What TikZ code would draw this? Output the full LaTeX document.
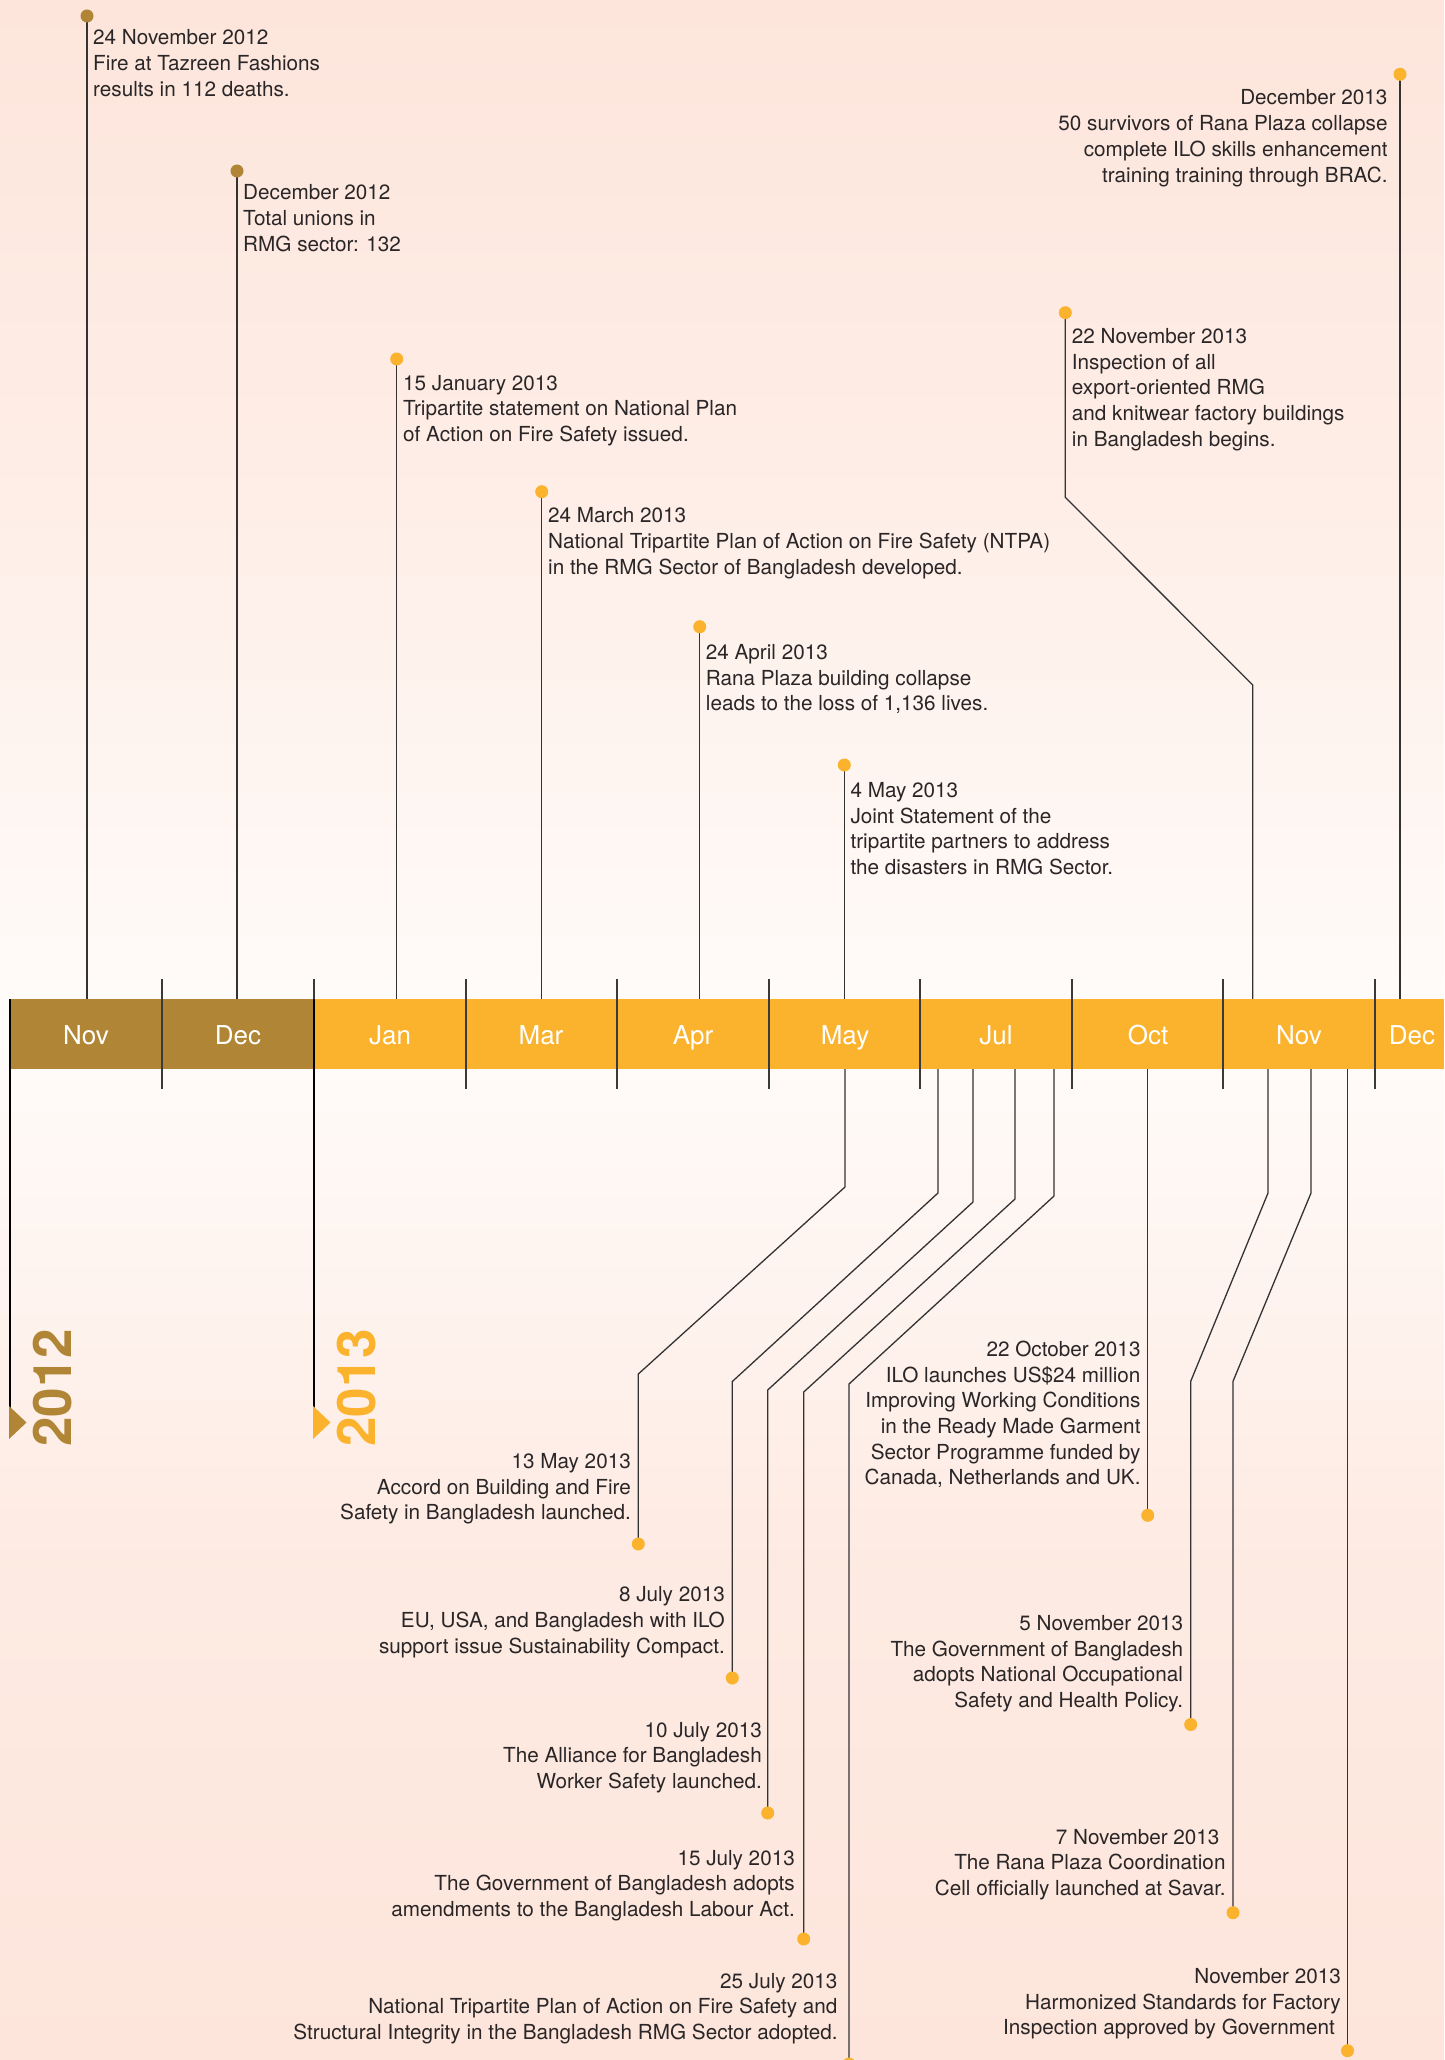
\documentclass[tikz,border=0pt]{standalone}
\usepackage{fontspec}
\setmainfont{TeX Gyre Heros}
\definecolor{brownc}{HTML}{B08535}
\definecolor{orangec}{HTML}{FBB22C}
\definecolor{pinkbg}{HTML}{FDE5DB}
\definecolor{whitebg}{HTML}{FFFCFA}
\definecolor{txtc}{HTML}{2A2627}
\definecolor{stemc}{HTML}{333333}
\definecolor{tickc}{HTML}{3A3A3A}
\newcommand\evL[1]{\begin{tabular}[t]{@{}l@{}}#1\end{tabular}}
\newcommand\evR[1]{\begin{tabular}[t]{@{}r@{}}#1\end{tabular}}
\begin{document}
\begin{tikzpicture}[x=1pt,y=-1pt,
  stem/.style={draw=stemc, line width=1.3pt},
  yearline/.style={draw=black, line width=2.2pt},
  tickline/.style={draw=tickc, line width=1.2pt},
  dotA/.style={circle, fill=brownc, inner sep=0pt, minimum size=13pt},
  dotB/.style={circle, fill=orangec, inner sep=0pt, minimum size=13pt},
  txt/.style={inner sep=0pt, text=txtc, font=\fontsize{20.7}{25.7}\selectfont},
  txtL/.style={txt, anchor=base west},
  txtR/.style={txt, anchor=base east},
  month/.style={inner sep=0pt, text=white, font=\fontsize{26}{30}\selectfont, anchor=base},
  yearlab/.style={inner sep=0pt, rotate=90, anchor=base west, font=\fontsize{53}{60}\selectfont\bfseries}
]
\useasboundingbox (0,0) rectangle (1444,2060);
% background
\shade[top color=pinkbg, bottom color=whitebg, middle color=pinkbg!60!whitebg] (0,0) rectangle (1444,1034);
\shade[top color=whitebg, bottom color=pinkbg, middle color=pinkbg!75!whitebg] (0,1034) rectangle (1444,2060);

% ---------- positions ----------
\coordinate (p1) at (87,16);
\coordinate (p2) at (237,171);
\coordinate (p3) at (396.7,359);
\coordinate (p4) at (541.7,491.7);
\coordinate (p5) at (699.7,626.7);
\coordinate (p6) at (844.3,765);
\coordinate (p7) at (1065.3,312.7);
\coordinate (p8) at (1400,74.3);
\coordinate (b1) at (87,1000);
\coordinate (b2) at (237,1000);
\coordinate (b3) at (396.7,1000);
\coordinate (b4) at (541.7,1000);
\coordinate (b5) at (699.7,1000);
\coordinate (b6) at (844.3,1000);
\coordinate (k7a) at (1065.3,497.3);
\coordinate (k7b) at (1252.7,685);
\coordinate (b7) at (1252.7,1000);
\coordinate (b8) at (1400,1000);

\coordinate (q1) at (638.3,1544);
\coordinate (q2) at (732.3,1678);
\coordinate (q3) at (767.7,1813);
\coordinate (q4) at (803.7,1939);
\coordinate (q5) at (849,2064);
\coordinate (q6) at (1147.7,1515.3);
\coordinate (q7) at (1190.7,1724.5);
\coordinate (q8) at (1233,1912.7);
\coordinate (q9) at (1347.5,2050.7);
\coordinate (c1) at (845,1068);
\coordinate (c2) at (938,1068);
\coordinate (c3) at (973,1068);
\coordinate (c4) at (1015,1068);
\coordinate (c5) at (1054,1068);
\coordinate (c6) at (1147.7,1068);
\coordinate (c7) at (1268,1068);
\coordinate (c8) at (1311,1068);
\coordinate (c9) at (1347.5,1068);
\coordinate (k1a) at (845,1187);   \coordinate (k1b) at (638.3,1374);
\coordinate (k2a) at (938,1193);   \coordinate (k2b) at (732.3,1381.5);
\coordinate (k3a) at (973,1202);   \coordinate (k3b) at (767.7,1390);
\coordinate (k4a) at (1015,1199);  \coordinate (k4b) at (803.7,1392);
\coordinate (k5a) at (1054,1196);  \coordinate (k5b) at (849,1384);
\coordinate (k7a2) at (1268,1193); \coordinate (k7b2) at (1190.7,1381.3);
\coordinate (k8a) at (1311,1193);  \coordinate (k8b) at (1233,1381.3);

% stems
\draw[stem] (p1) -- (b1);
\draw[stem] (p2) -- (b2);
\draw[stem] (p3) -- (b3);
\draw[stem] (p4) -- (b4);
\draw[stem] (p5) -- (b5);
\draw[stem] (p6) -- (b6);
\draw[stem] (p7) -- (k7a) -- (k7b) -- (b7);
\draw[stem] (p8) -- (b8);
\draw[stem] (c1) -- (k1a) -- (k1b) -- (q1);
\draw[stem] (c2) -- (k2a) -- (k2b) -- (q2);
\draw[stem] (c3) -- (k3a) -- (k3b) -- (q3);
\draw[stem] (c4) -- (k4a) -- (k4b) -- (q4);
\draw[stem] (c5) -- (k5a) -- (k5b) -- (q5);
\draw[stem] (c6) -- (q6);
\draw[stem] (c7) -- (k7a2) -- (k7b2) -- (q7);
\draw[stem] (c8) -- (k8a) -- (k8b) -- (q8);
\draw[stem] (c9) -- (q9);

% dots
\node[dotA] (d1) at (p1) {};
\node[dotA] (d2) at (p2) {};
\node[dotB] (d3) at (p3) {};
\node[dotB] (d4) at (p4) {};
\node[dotB] (d5) at (p5) {};
\node[dotB] (d6) at (p6) {};
\node[dotB] (d7) at (p7) {};
\node[dotB] (d8) at (p8) {};
\node[dotB] (e1) at (q1) {};
\node[dotB] (e2) at (q2) {};
\node[dotB] (e3) at (q3) {};
\node[dotB] (e4) at (q4) {};
\node[dotB] (e5) at (q5) {};
\node[dotB] (e6) at (q6) {};
\node[dotB] (e7) at (q7) {};
\node[dotB] (e8) at (q8) {};
\node[dotB] (e9) at (q9) {};

% ---------- bar ----------
\fill[brownc] (10,999) rectangle (314,1069);
\fill[orangec] (314,999) rectangle (1444,1069);
\foreach \x in {162,466,617,769,920,1072,1223,1375}
  \draw[tickline] (\x,979) -- (\x,1089);
\draw[tickline] (314,979) -- (314,999);

% year markers
\coordinate (ya) at (10,999);  \coordinate (yb) at (10,1408);
\coordinate (yc) at (314,999); \coordinate (yd) at (314,1408);
\draw[yearline] (ya) -- (yb);
\draw[yearline] (yc) -- (yd);
\fill[brownc] (9,1406) -- (26.5,1422.5) -- (9,1439) -- cycle;
\fill[orangec] (313,1406) -- (330.5,1422.5) -- (313,1439) -- cycle;
\node[yearlab, text=brownc] (y12) at (71,1447) {2012};
\node[yearlab, text=orangec] (y13) at (375,1447) {2013};

% month labels
\node[month] (m1) at (86,1044) {Nov};
\node[month] (m2) at (238,1044) {Dec};
\node[month] (m3) at (390,1044) {Jan};
\node[month] (m4) at (541,1044) {Mar};
\node[month] (m5) at (693,1044) {Apr};
\node[month] (m6) at (845,1044) {May};
\node[month] (m7) at (996,1044) {Jul};
\node[month] (m8) at (1148,1044) {Oct};
\node[month] (m9) at (1299,1044) {Nov};
\node[month] (m10) at (1412,1044) {Dec};

% ---------- texts: top ----------
\node[txtL] (t1) at (93,45) {\evL{24 November 2012\\Fire at Tazreen Fashions\\results in 112 deaths.}};
\node[txtL] (t2) at (243,200) {\evL{December 2012\\Total unions in\\RMG sector: 132}};
\node[txtL] (t3) at (403,390) {\evL{15 January 2013\\Tripartite statement on National Plan\\of Action on Fire Safety issued.}};
\node[txtL] (t4) at (548,522.7) {\evL{24 March 2013\\National Tripartite Plan of Action on Fire Safety (NTPA)\\in the RMG Sector of Bangladesh developed.}};
\node[txtL] (t5) at (705.7,659.3) {\evL{24 April 2013\\Rana Plaza building collapse\\leads to the loss of 1,136 lives.}};
\node[txtL] (t6) at (850.3,797.3) {\evL{4 May 2013\\Joint Statement of the\\tripartite partners to address\\the disasters in RMG Sector.}};
\node[txtL] (t7) at (1071.7,343.3) {\evL{22 November 2013\\Inspection of all\\export-oriented RMG\\and knitwear factory buildings\\in Bangladesh begins.}};
\node[txtR] (t8) at (1387.7,105) {\evR{December 2013\\50 survivors of Rana Plaza collapse\\complete ILO skills enhancement\\training training through BRAC.}};

% ---------- texts: bottom ----------
\node[txtR] (u1) at (631,1468.4) {\evR{13 May 2013\\Accord on Building and Fire\\Safety in Bangladesh launched.}};
\node[txtR] (u2) at (725,1601.6) {\evR{8 July 2013\\EU, USA, and Bangladesh with ILO\\support issue Sustainability Compact.}};
\node[txtR] (u3) at (762,1737) {\evR{10 July 2013\\The Alliance for Bangladesh\\Worker Safety launched.}};
\node[txtR] (u4) at (795,1865) {\evR{15 July 2013\\The Government of Bangladesh adopts\\amendments to the Bangladesh Labour Act.}};
\node[txtR] (u5) at (837.7,1988) {\evR{25 July 2013\\National Tripartite Plan of Action on Fire Safety and\\Structural Integrity in the Bangladesh RMG Sector adopted.}};
\node[txtR] (u6) at (1140.7,1356.4) {\evR{22 October 2013\\ILO launches US\$24 million\\Improving Working Conditions\\in the Ready Made Garment\\Sector Programme funded by\\Canada, Netherlands and UK.}};
\node[txtR] (u7) at (1183.3,1630.4) {\evR{5 November 2013\\The Government of Bangladesh\\adopts National Occupational\\Safety and Health Policy.}};
\node[txtR] (u8) at (1225.7,1844) {\evR{7 November 2013\kern6pt\\The Rana Plaza Coordination\\Cell officially launched at Savar.}};
\node[txtR] (u9) at (1341,1983.3) {\evR{November 2013\\Harmonized Standards for Factory\\Inspection approved by Government\kern6pt}};
\end{tikzpicture}
\end{document}
